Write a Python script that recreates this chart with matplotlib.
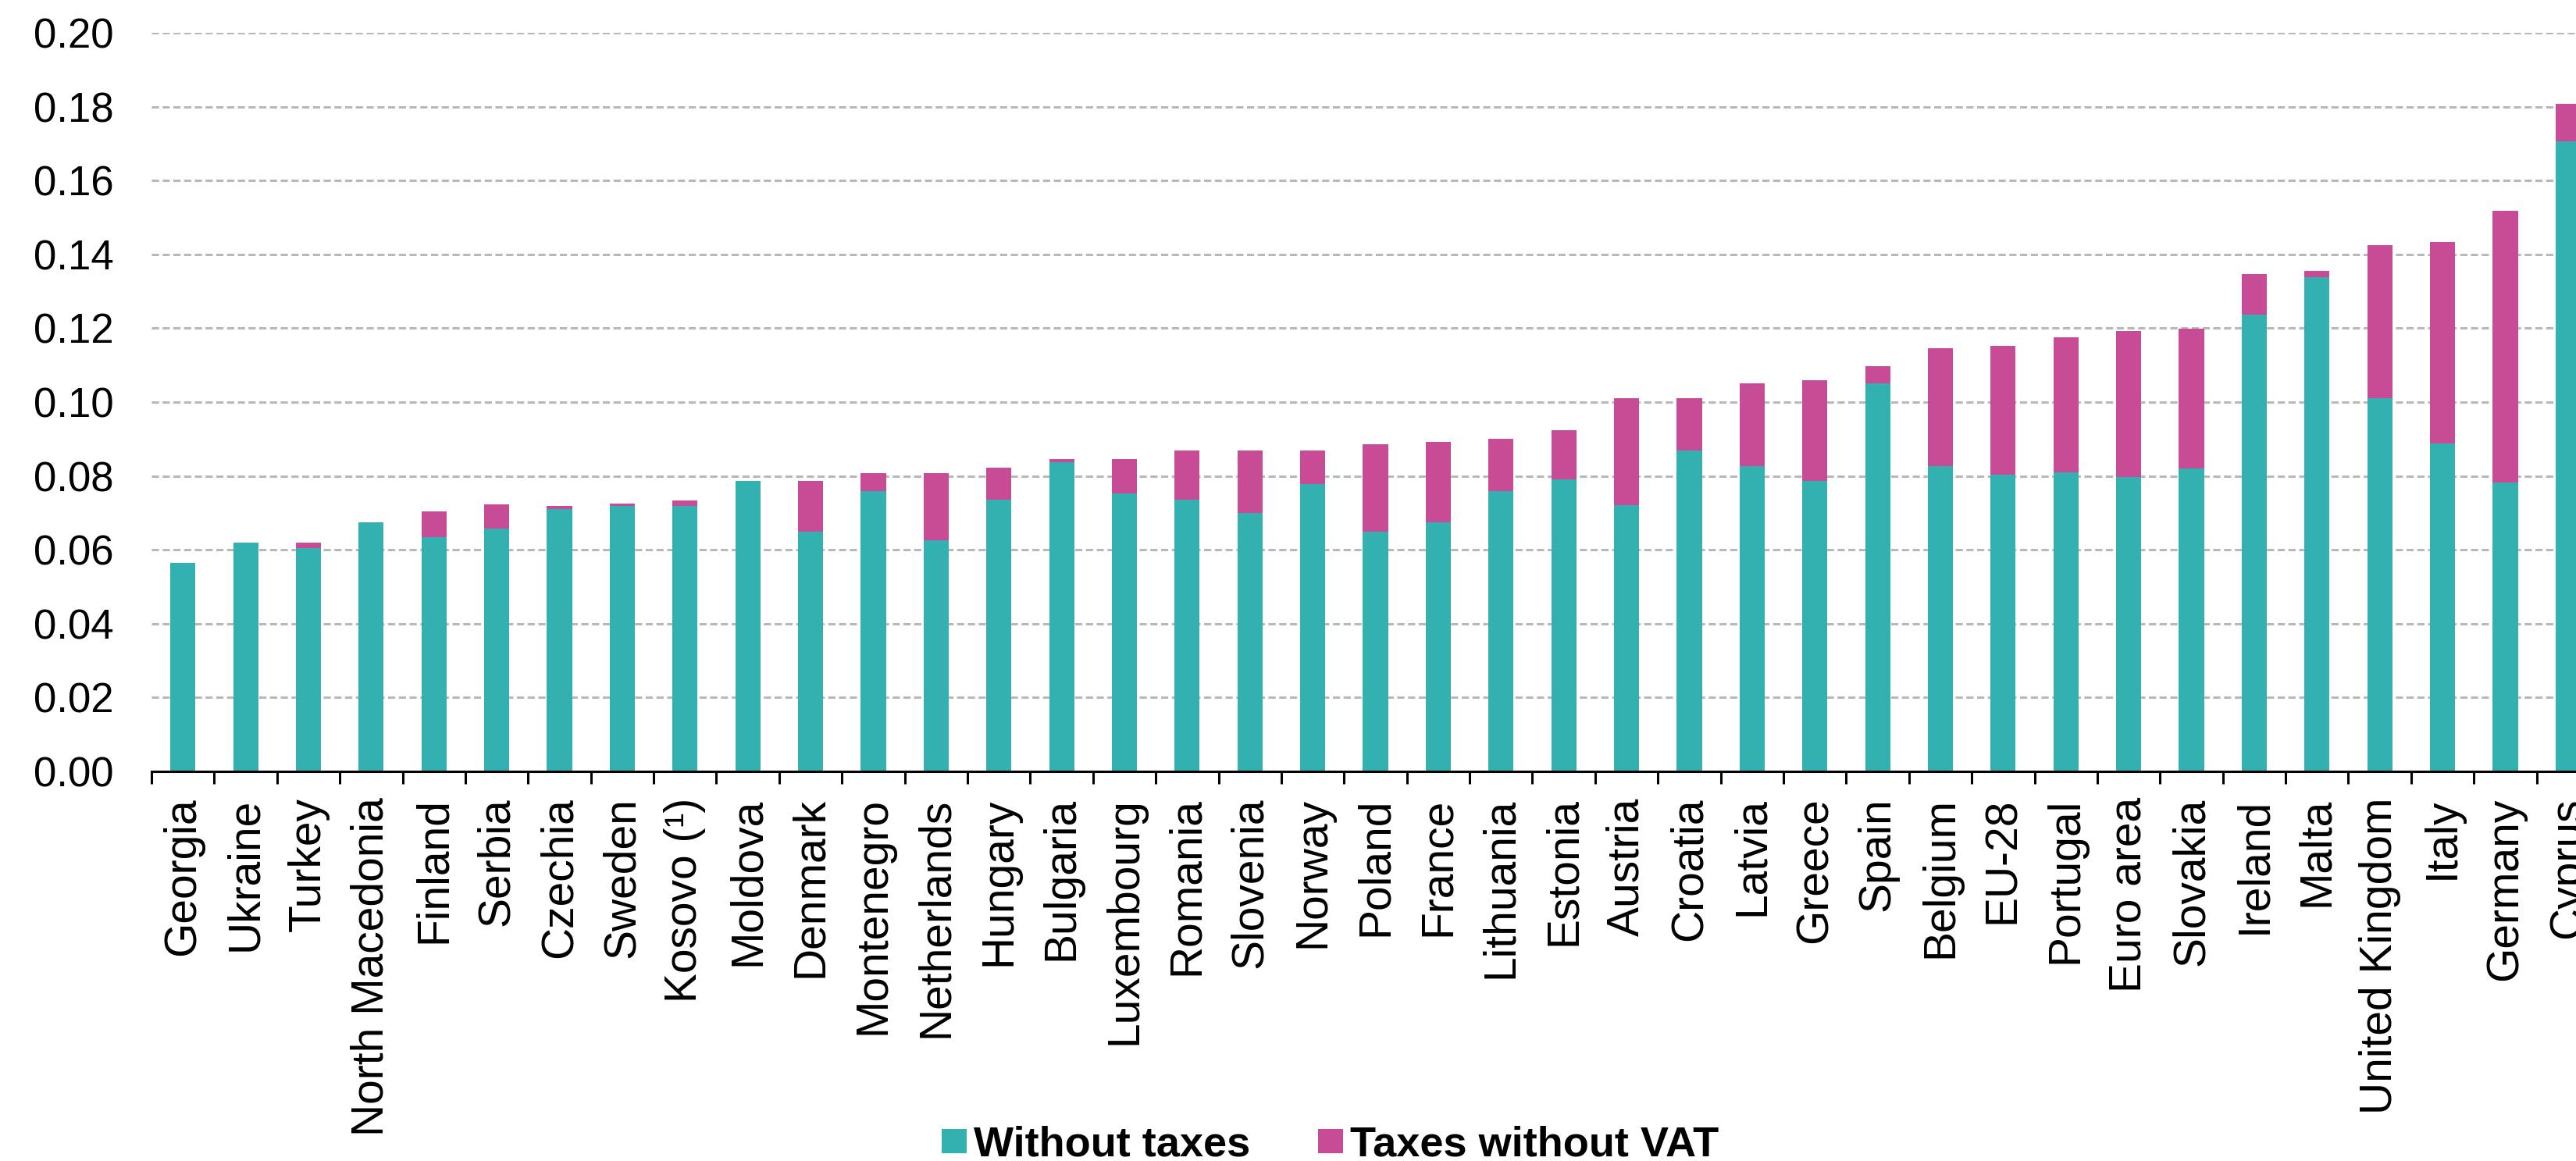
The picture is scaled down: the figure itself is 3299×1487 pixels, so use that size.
import numpy as np
import matplotlib
matplotlib.use("Agg")
import matplotlib.pyplot as plt
from matplotlib.patches import Patch

plt.rcParams['font.family'] = ['Liberation Sans', 'DejaVu Sans']

# -----------------------------
# Data
# -----------------------------
countries = ["Georgia", "Ukraine", "Turkey", "North Macedonia", "Finland", "Serbia",
             "Czechia", "Sweden", "Kosovo (¹)", "Moldova", "Denmark", "Montenegro",
             "Netherlands", "Hungary", "Bulgaria", "Luxembourg", "Romania", "Slovenia",
             "Norway", "Poland", "France", "Lithuania", "Estonia", "Austria", "Croatia",
             "Latvia", "Greece", "Spain", "Belgium", "EU-28", "Portugal", "Euro area",
             "Slovakia", "Ireland", "Malta", "United Kingdom", "Italy", "Germany", "Cyprus"]

without_taxes = [0.0564, 0.0619, 0.0604, 0.0674, 0.0634, 0.0657,
                 0.0710, 0.0719, 0.0719, 0.0787, 0.0648, 0.0758,
                 0.0626, 0.0735, 0.0837, 0.0752, 0.0735, 0.0699,
                 0.0777, 0.0649, 0.0675, 0.0760, 0.0791, 0.0721, 0.0869,
                 0.0827, 0.0787, 0.1050, 0.0827, 0.0804, 0.0810, 0.0796,
                 0.0821, 0.1237, 0.1338, 0.1010, 0.0888, 0.0782, 0.1706]

taxes_without_vat = [0.0, 0.0, 0.0015, 0.0, 0.0070, 0.0065,
                     0.0009, 0.0006, 0.0014, 0.0, 0.0139, 0.0049,
                     0.0181, 0.0088, 0.0009, 0.0094, 0.0134, 0.0170,
                     0.0092, 0.0237, 0.0217, 0.0140, 0.0132, 0.0290, 0.0142,
                     0.0223, 0.0272, 0.0047, 0.0319, 0.0348, 0.0366, 0.0397,
                     0.0378, 0.0110, 0.0017, 0.0415, 0.0545, 0.0736, 0.0101]

series_names = ["Without taxes", "Taxes without VAT"]
teal = "#33b0b0"
magenta = "#c74c95"

# -----------------------------
# Figure / axes (axes runs slightly past the right edge, like the source)
# -----------------------------
W, H = 3299, 1487
fig = plt.figure(figsize=(W / 100, H / 100), dpi=100)
ax = fig.add_axes([194 / W, 1 - 988 / H, (3329 - 194) / W, (988 - 42) / H])

x = np.arange(len(countries))
ax.bar(x, without_taxes, width=0.4, color=teal, zorder=2)
ax.bar(x, taxes_without_vat, width=0.4, bottom=without_taxes, color=magenta, zorder=2)

ax.set_xlim(-0.5, len(countries) - 0.5)
ax.set_ylim(0, 0.20)
ax.set_yticks(np.arange(0, 0.201, 0.02))
ax.set_yticklabels([f"{v:.2f}" for v in np.arange(0, 0.201, 0.02)], fontsize=38)
ax.tick_params(axis="y", length=0, pad=35)

ax.set_xticks(x)
ax.set_xticklabels(countries, rotation=90, fontsize=41)
ax.set_xticks(np.arange(-0.5, len(countries)), minor=True)
ax.tick_params(axis="x", which="major", length=0, pad=24)
ax.tick_params(axis="x", which="minor", length=11.5, width=2.2, color="black")

for side in ["top", "right", "left"]:
    ax.spines[side].set_visible(False)
ax.spines["bottom"].set_linewidth(2.2)
ax.spines["bottom"].set_color("black")

ax.set_axisbelow(True)
ax.yaxis.grid(True, color="#b8b8b8", linestyle=(0, (3, 1.5)), linewidth=2.2)

# -----------------------------
# Legend
# -----------------------------
handles = [Patch(facecolor=teal), Patch(facecolor=magenta)]
fig.legend(handles, series_names, loc="center", bbox_to_anchor=(0.5165, 0.0135),
           ncol=2, frameon=False, prop={"weight": "bold", "size": 39},
           handlelength=0.58, handleheight=0.5, handletextpad=0.18,
           columnspacing=1.6, borderaxespad=0)

fig.savefig("out.png", dpi=100)
